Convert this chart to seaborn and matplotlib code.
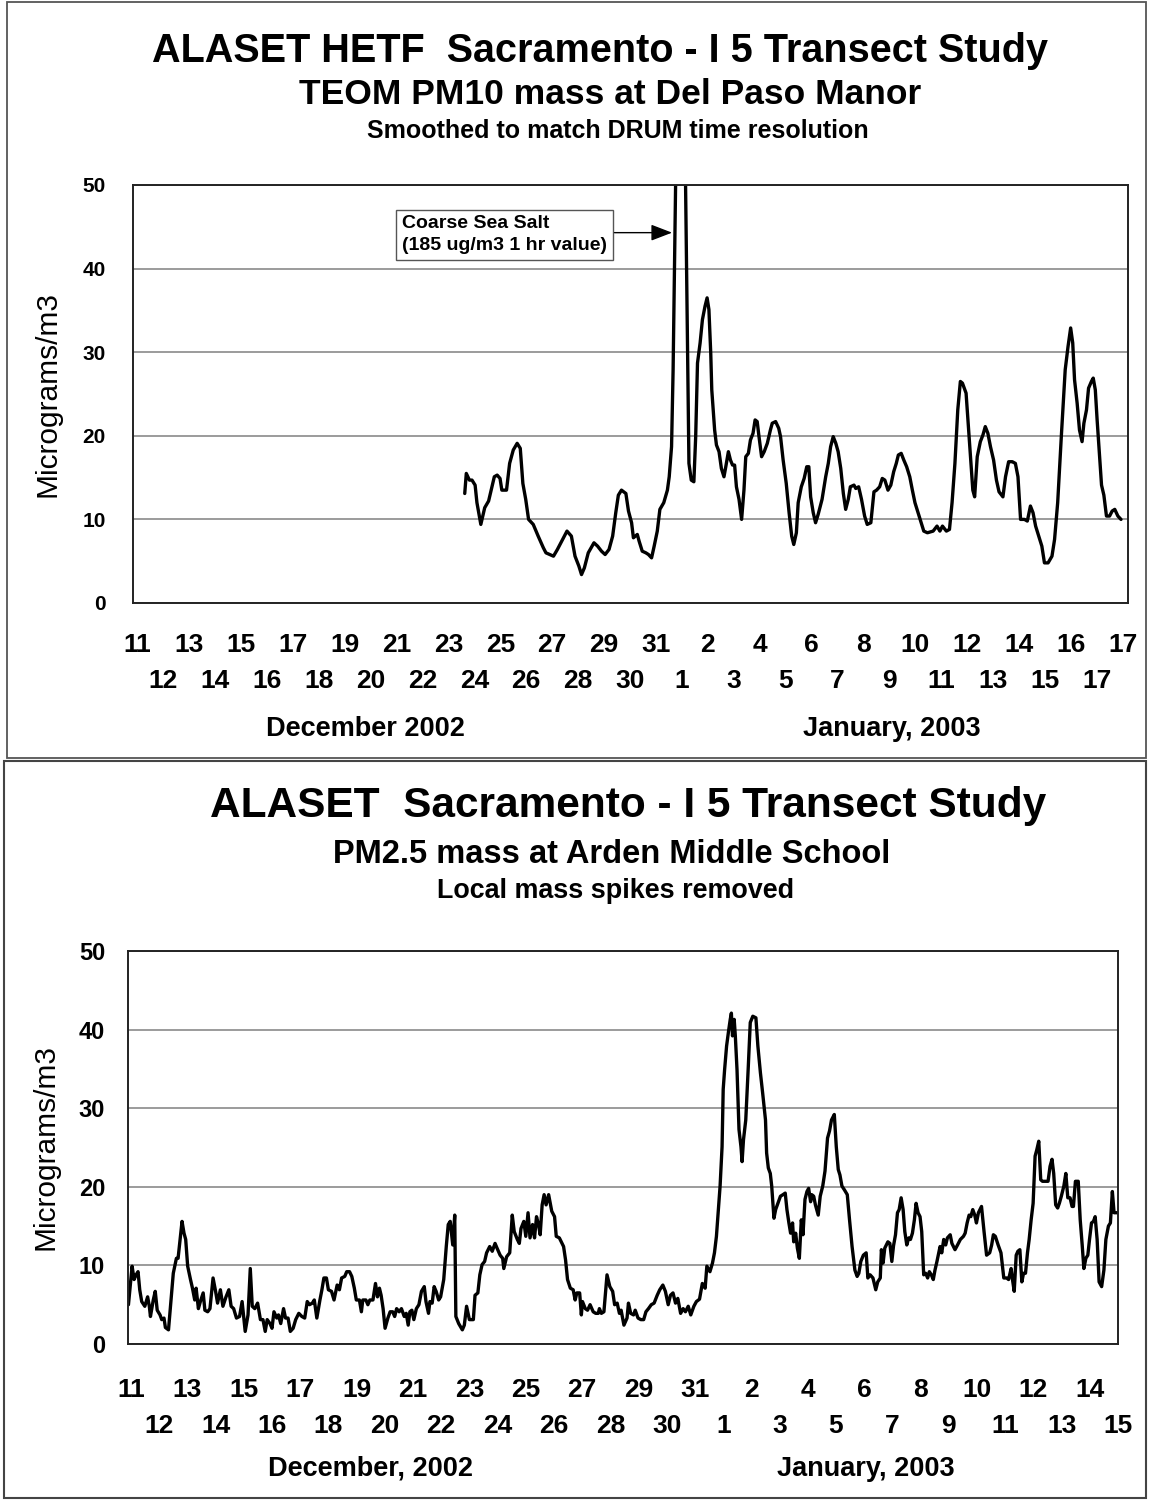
import numpy as np
import pandas as pd
import matplotlib
matplotlib.use("Agg")
import matplotlib.pyplot as plt
import seaborn as sns
from matplotlib.patches import Rectangle

# ---------------- data ----------------
# x positions are in "day-label slots" of each chart's category axis
top_day_labels = ["11", "12", "13", "14", "15", "16", "17", "18", "19", "20",
                  "21", "22", "23", "24", "25", "26", "27", "28", "29", "30",
                  "31", "1", "2", "3", "4", "5", "6", "7", "8", "9",
                  "10", "11", "12", "13", "14", "15", "16", "17", "17"]
bot_day_labels = ["11", "12", "13", "14", "15", "16", "17", "18", "19", "20",
                  "21", "22", "23", "24", "25", "26", "27", "28", "29", "30",
                  "31", "1", "2", "3", "4", "5", "6", "7", "8", "9",
                  "10", "11", "12", "13", "14", "15"]
y_ticks = [0, 10, 20, 30, 40, 50]

top_t = [12.63, 12.69, 12.81, 12.91, 13.03, 13.10, 13.25, 13.40, 13.55, 13.65,
         13.77, 13.88, 13.99, 14.06, 14.24, 14.36, 14.50, 14.65, 14.77, 14.87,
         14.98, 15.09, 15.27, 15.46, 15.66, 15.76, 15.91, 16.05, 16.20, 16.40,
         16.57,
         16.74, 16.88, 17.03, 17.13, 17.24, 17.39, 17.61, 17.75, 17.90, 18.04,
         18.19, 18.33, 18.45, 18.55, 18.67, 18.84, 18.94, 19.06, 19.13, 19.28,
         19.35, 19.47, 19.61, 19.71, 19.83, 19.93, 20.05, 20.15, 20.30, 20.44,
         20.51, 20.60, 20.66, 20.73, 20.95, 21.14, 21.21, 21.27, 21.36, 21.46,
         21.53, 21.60, 21.70, 21.79, 21.89, 21.97, 22.04, 22.11, 22.15, 22.26,
         22.33, 22.43, 22.52, 22.62, 22.69, 22.79, 22.87, 22.95, 23.03, 23.10,
         23.20, 23.30, 23.39, 23.46, 23.56, 23.64, 23.74, 23.82, 23.90, 23.97,
         24.07, 24.17, 24.29, 24.41, 24.48, 24.61, 24.73, 24.80, 24.90, 25.02,
         25.13, 25.23, 25.31, 25.41, 25.48, 25.60, 25.71, 25.81, 25.89, 25.96,
         26.06, 26.15, 26.25, 26.40, 26.54, 26.64, 26.73, 26.83, 26.93, 27.02,
         27.12, 27.22, 27.31, 27.41, 27.49, 27.63, 27.70, 27.81, 27.92, 28.04,
         28.14, 28.28, 28.40, 28.50, 28.62, 28.72, 28.82, 28.94, 29.05, 29.16,
         29.26, 29.34, 29.45, 29.55, 29.66, 29.78, 29.88, 29.98, 30.10, 30.22,
         30.32, 30.46, 30.68, 30.83, 30.94, 31.04, 31.19, 31.31, 31.41, 31.52,
         31.63, 31.73, 31.81, 31.95, 32.03, 32.13, 32.21, 32.28, 32.38, 32.50,
         32.60, 32.69, 32.79, 32.89, 33.01, 33.12, 33.22, 33.37, 33.47, 33.59,
         33.73, 33.85, 33.95, 34.05, 34.20, 34.31, 34.43, 34.53, 34.63, 34.75,
         34.87, 34.97, 35.11, 35.26, 35.36, 35.48, 35.62, 35.77, 35.88, 35.98,
         36.06, 36.13, 36.23, 36.32, 36.42, 36.49, 36.59, 36.67, 36.78, 36.85,
         36.93, 37.00, 37.07, 37.17, 37.26, 37.36, 37.48, 37.58, 37.68, 37.80,
         37.92]
top_pm10 = [13.1, 15.5, 14.7, 14.7, 14.1, 12.0, 9.4, 11.4, 12.2, 13.5,
            15.1, 15.3, 14.9, 13.5, 13.5, 16.7, 18.3, 19.1, 18.5, 14.3,
            12.4, 10.0, 9.4, 8.0, 6.6, 6.0, 5.8, 5.6, 6.4, 7.6,
            8.6,
            8.0, 5.6, 4.4, 3.4, 4.2, 6.0, 7.2, 6.8, 6.2, 5.8,
            6.4, 8.0, 10.8, 12.9, 13.5, 13.1, 11.0, 9.6, 7.8, 8.2,
            7.4, 6.2, 6.0, 5.8, 5.4, 6.8, 8.6, 11.2, 12.0, 13.5,
            15.1, 18.7, 27.9, 43.8, 95.0, 50.0, 31.9, 16.7, 14.7, 14.5,
            19.9, 28.7, 31.1, 33.9, 35.5, 36.5, 35.1, 29.9, 25.5, 20.7,
            18.9, 18.1, 16.1, 15.1, 16.3, 18.1, 17.1, 16.5, 16.5, 13.9,
            12.4, 10.0, 13.5, 17.5, 17.9, 19.5, 20.3, 21.9, 21.7, 19.9,
            17.5, 18.1, 19.1, 20.7, 21.5, 21.7, 20.9, 19.9, 17.1, 14.3,
            10.8, 8.0, 7.0, 8.4, 12.0, 13.9, 14.9, 16.3, 16.3, 12.7,
            10.8, 9.6, 10.6, 12.4, 15.1, 16.7, 18.7, 19.9, 19.1, 18.1,
            16.1, 13.1, 11.2, 12.4, 13.9, 14.1, 13.7, 13.9, 12.4, 10.4,
            9.4, 9.6, 13.3, 13.5, 13.9, 14.9, 14.7, 13.5, 14.1, 15.7,
            16.7, 17.7, 17.9, 17.1, 16.3, 15.1, 13.5, 12.0, 10.8, 9.6,
            8.6, 8.4, 8.6, 9.2, 8.6, 9.2, 8.6, 8.8, 12.0, 16.7,
            23.1, 26.5, 26.3, 25.1, 21.5, 17.1, 13.5, 12.7, 17.5, 19.3,
            20.1, 21.1, 20.3, 18.7, 17.1, 14.7, 13.3, 12.7, 15.1, 16.9,
            16.9, 16.7, 15.1, 10.0, 10.0, 9.8, 11.6, 10.8, 9.2, 8.0,
            6.8, 4.8, 4.8, 5.6, 7.6, 12.0, 19.9, 27.9, 30.7, 32.9,
            31.1, 26.7, 23.9, 20.7, 19.3, 21.5, 23.1, 25.7, 26.5, 26.9,
            25.5, 21.9, 18.7, 14.1, 12.9, 10.4, 10.4, 11.0, 11.2, 10.4,
            10.0]

bot_t = [-0.09, -0.03, 0.04, 0.11, 0.18, 0.25, 0.31, 0.38, 0.49, 0.59,
         0.65, 0.69, 0.79, 0.86, 0.93, 1.03, 1.09, 1.17, 1.22, 1.33,
         1.43, 1.50, 1.61, 1.67, 1.74, 1.81, 1.88, 1.94, 2.01, 2.11,
         2.18, 2.26, 2.31, 2.39, 2.46, 2.56, 2.62, 2.72, 2.80, 2.91,
         3.00, 3.07, 3.17, 3.26, 3.37, 3.47, 3.55, 3.64, 3.74, 3.85,
         3.94, 4.05, 4.15, 4.23, 4.30, 4.39, 4.49, 4.59, 4.68, 4.76,
         4.83, 4.93, 5.00, 5.07, 5.17, 5.23, 5.31, 5.41, 5.48, 5.57,
         5.65, 5.75, 5.84, 5.95, 6.06, 6.16, 6.25, 6.33, 6.43, 6.50,
         6.59, 6.70, 6.77, 6.84, 6.93, 7.00, 7.11, 7.20, 7.31, 7.39,
         7.47, 7.58, 7.65, 7.75, 7.83, 7.92, 7.99, 8.10, 8.17, 8.22,
         8.33, 8.40, 8.47, 8.58, 8.67, 8.74, 8.81, 8.87, 8.94, 9.01,
         9.11, 9.19, 9.28, 9.35, 9.42, 9.51, 9.59, 9.69, 9.76, 9.83,
         9.89, 9.96, 10.03, 10.12, 10.21, 10.30, 10.40, 10.46, 10.55, 10.60,
         10.68, 10.75, 10.82, 10.91, 10.98, 11.09, 11.18, 11.25, 11.32, 11.36,
         11.41, 11.48, 11.52, 11.62, 11.75, 11.82, 11.90, 12.00, 12.14, 12.20,
         12.30, 12.37, 12.45, 12.54, 12.61, 12.72, 12.81, 12.91, 12.98, 13.09,
         13.18, 13.22, 13.32, 13.43, 13.52, 13.59, 13.70, 13.77, 13.83, 13.93,
         14.00, 14.08, 14.15, 14.24, 14.31, 14.38, 14.45, 14.51, 14.58, 14.65,
         14.72, 14.81, 14.92, 15.02, 15.08, 15.19,
         15.34, 15.41, 15.48, 15.58, 15.68, 15.75, 15.81, 15.91, 15.97, 16.01,
         16.11, 16.19, 16.28, 16.39, 16.48, 16.57, 16.61, 16.68, 16.77, 16.88,
         16.98, 17.08, 17.15, 17.24, 17.32, 17.38, 17.48, 17.59, 17.64, 17.72,
         17.82, 17.88, 17.98, 18.08, 18.18, 18.26, 18.35, 18.45, 18.55, 18.66,
         18.75, 18.86, 18.95, 19.05, 19.13, 19.22, 19.31, 19.39, 19.49, 19.58,
         19.66, 19.76, 19.85, 19.96, 20.05, 20.16, 20.22, 20.26, 20.36, 20.42,
         20.53, 20.62, 20.69, 20.76, 20.83, 20.89, 20.96, 21.00, 21.05, 21.12,
         21.19, 21.25, 21.29, 21.33, 21.39, 21.43, 21.49, 21.56, 21.63, 21.67,
         21.72, 21.80, 21.89, 21.96, 22.05, 22.16, 22.23, 22.32, 22.40, 22.50,
         22.54, 22.60, 22.67, 22.72, 22.80, 22.86, 22.94, 23.03, 23.12, 23.20,
         23.26, 23.33, 23.39, 23.46, 23.50, 23.57, 23.63, 23.70, 23.77, 23.83,
         23.90, 23.97, 24.03, 24.10, 24.14, 24.21, 24.27, 24.37, 24.44, 24.53,
         24.61, 24.70, 24.77, 24.84, 24.94, 25.01, 25.08, 25.14, 25.21, 25.30,
         25.40, 25.48, 25.57, 25.67, 25.75, 25.81, 25.88, 25.97, 26.07, 26.13,
         26.21, 26.31, 26.41, 26.48, 26.57, 26.61, 26.67, 26.73, 26.84, 26.91,
         26.98, 27.04, 27.11, 27.18, 27.24, 27.31, 27.38, 27.44, 27.51, 27.58,
         27.64, 27.71, 27.78, 27.84, 27.91, 27.98, 28.04, 28.11, 28.18, 28.25,
         28.31, 28.38, 28.45, 28.51, 28.58, 28.69, 28.75, 28.82, 28.89, 28.95,
         29.05, 29.11, 29.22, 29.31, 29.41, 29.52, 29.58, 29.65, 29.72, 29.78,
         29.85, 29.92, 29.98, 30.05, 30.16, 30.25, 30.34, 30.45, 30.52, 30.58,
         30.65, 30.75, 30.85, 30.95, 31.05, 31.12, 31.21, 31.25, 31.32, 31.39,
         31.45, 31.52, 31.59, 31.65, 31.72, 31.79, 31.85, 31.92, 31.99, 32.06,
         32.12, 32.19, 32.26, 32.32, 32.43, 32.52, 32.59, 32.66, 32.72, 32.79,
         32.86, 32.92, 32.99, 33.08, 33.15, 33.22, 33.30, 33.37, 33.42, 33.49,
         33.59, 33.66, 33.73, 33.79, 33.86, 33.93, 33.99, 34.06, 34.13, 34.19,
         34.26, 34.33, 34.42, 34.50, 34.57, 34.66, 34.73, 34.80, 34.86, 34.97]
bot_pm25 = [5.0, 7.3, 9.9, 8.2, 8.8, 9.2, 6.9, 5.4, 4.8, 6.0,
            4.8, 3.5, 5.6, 6.7, 4.3, 3.7, 3.1, 3.3, 2.1, 1.8,
            6.0, 9.0, 10.9, 10.9, 13.3, 15.6, 14.1, 13.3, 9.9, 8.2,
            7.1, 5.6, 7.1, 4.5, 5.4, 6.5, 4.3, 4.1, 4.5, 8.4,
            6.7, 5.2, 6.9, 4.8, 6.0, 6.9, 4.8, 4.5, 3.3, 3.5,
            5.4, 1.6, 3.7, 9.6, 4.8, 4.5, 5.2, 3.1, 3.1, 1.6,
            3.1, 2.6, 2.0, 4.1, 3.3, 3.7, 2.6, 4.5, 3.3, 3.3,
            1.6, 2.0, 3.1, 3.9, 3.5, 3.3, 5.4, 5.0, 5.2, 5.6,
            3.3, 5.6, 6.9, 8.4, 8.4, 6.9, 6.7, 5.6, 7.5, 6.9,
            8.4, 8.6, 9.2, 9.2, 8.6, 7.1, 5.6, 5.6, 4.1, 5.6,
            5.6, 5.0, 5.6, 5.6, 7.7, 6.0, 7.1, 6.2, 4.5, 2.0,
            3.3, 4.1, 4.1, 3.5, 4.5, 4.1, 4.5, 3.5, 3.9, 2.4,
            4.1, 4.3, 3.1, 4.5, 5.0, 6.7, 7.3, 5.4, 3.9, 5.4,
            5.2, 7.3, 6.7, 5.6, 6.0, 8.2, 12.4, 15.2, 15.6, 14.3,
            12.6, 16.4, 3.5, 2.6, 1.8, 2.4, 4.8, 3.1, 3.1, 6.2,
            6.5, 8.8, 10.1, 10.5, 11.6, 12.4, 11.8, 12.8, 12.2, 11.3,
            10.9, 9.6, 11.1, 11.6, 16.4, 14.3, 13.3, 12.8, 14.7, 15.6,
            13.7, 16.7, 13.5, 15.2, 13.5, 16.2, 15.2, 13.9, 17.7, 19.0,
            17.7, 19.0, 16.9, 16.2, 13.7, 13.5,
            12.4, 10.7, 8.2, 7.1, 6.9, 5.6, 6.5, 6.5, 3.7, 5.4,
            4.5, 4.3, 5.0, 4.1, 3.9, 3.9, 4.5, 3.9, 4.1, 8.8,
            7.3, 6.7, 5.0, 5.2, 3.9, 4.3, 2.4, 3.3, 5.2, 3.9,
            3.7, 4.3, 3.3, 3.1, 3.1, 4.1, 4.5, 5.0, 5.2, 6.2,
            6.9, 7.5, 6.7, 5.0, 6.2, 6.5, 5.2, 5.8, 3.9, 4.5,
            4.1, 4.8, 3.7, 4.8, 5.4, 5.7, 6.9, 7.7, 7.1, 9.9,
            9.2, 10.3, 11.6, 13.7, 17.1, 20.1, 25.1, 32.4, 34.9, 37.9,
            39.8, 41.3, 42.1, 39.2, 41.3, 39.2, 34.9, 27.3, 25.1, 23.2,
            26.0, 28.5, 35.3, 40.9, 41.7, 41.5, 37.9, 34.5, 31.9, 28.5,
            24.3, 22.4, 21.7, 20.1, 16.0, 17.1, 17.9, 18.8, 19.0, 19.2,
            17.1, 15.4, 14.1, 15.4, 13.0, 14.1, 12.2, 10.9, 15.8, 13.9,
            18.4, 19.4, 19.8, 18.1, 19.0, 18.8, 17.7, 16.4, 18.8, 20.1,
            22.0, 26.2, 27.1, 28.5, 29.2, 25.1, 22.2, 21.5, 20.1, 19.6,
            19.0, 15.8, 12.4, 9.4, 8.6, 9.0, 10.5, 11.3, 11.6, 8.4,
            8.8, 8.4, 6.9, 7.9, 8.4, 12.0, 10.3, 12.2, 13.0, 12.8,
            10.5, 12.5, 13.9, 16.7, 17.1, 18.6, 17.1, 14.3, 12.6, 13.5,
            13.3, 14.1, 15.8, 17.9, 16.7, 16.2, 14.3, 8.8, 9.0, 8.4,
            9.2, 8.8, 8.2, 9.4, 10.5, 12.4, 11.6, 13.3, 12.6, 13.5,
            13.9, 12.8, 12.0, 12.6, 13.3, 13.7, 14.1, 15.4, 16.4, 16.2,
            17.1, 16.4, 15.4, 16.7, 17.5, 14.3, 11.3, 11.6, 12.6, 13.9,
            13.7, 12.6, 11.6, 8.4, 8.4, 8.2, 9.6, 8.4, 6.7, 11.3,
            11.8, 12.0, 7.9, 9.0, 9.0, 11.6, 13.3, 15.8, 17.9, 23.9,
            24.7, 25.8, 20.9, 20.7, 20.7, 20.7, 22.6, 23.5, 21.7, 17.7,
            17.3, 17.9, 18.8, 20.1, 21.7, 18.6, 18.6, 17.5, 17.5, 20.7,
            20.7, 15.8, 12.6, 9.6, 10.9, 11.3, 13.3, 15.4, 15.6, 16.2,
            13.3, 7.9, 7.3, 9.4, 13.3, 15.0, 15.4, 19.4, 16.7, 16.7]

# ---------------- styling ----------------
sns.set_theme(style="white")
plt.rcParams["font.family"] = ["Liberation Sans", "DejaVu Sans"]
plt.rcParams["text.color"] = "black"
plt.rcParams["axes.labelcolor"] = "black"
plt.rcParams["xtick.color"] = "black"
plt.rcParams["ytick.color"] = "black"

W, H = 1151, 1500
fig = plt.figure(figsize=(W / 100, H / 100), dpi=100)
fig.patch.set_facecolor("white")


def fx(px):
    return px / W


def fy(py):
    return 1 - py / H


ax1 = fig.add_axes([fx(133), fy(603), (1128 - 133) / W, (603 - 185) / H])
ax2 = fig.add_axes([fx(128), fy(1344), (1118 - 128) / W, (1344 - 951) / H])

df_top = pd.DataFrame({"t": top_t, "pm": top_pm10})
df_bot = pd.DataFrame({"t": bot_t, "pm": bot_pm25})

sns.lineplot(data=df_top, x="t", y="pm", ax=ax1, color="black", lw=2.4,
             estimator=None, sort=False)
sns.lineplot(data=df_bot, x="t", y="pm", ax=ax2, color="black", lw=2.4,
             estimator=None, sort=False)


def style_axes(ax, labels, xlim, ysize, ypad, xsize, pad1, pad2, ylab_x):
    ax.set_facecolor("white")
    ax.set_xlim(*xlim)
    ax.set_ylim(0, 50)
    ax.set_yticks(y_ticks)
    ax.set_yticklabels([str(v) for v in y_ticks])
    idx = np.arange(len(labels))
    ax.set_xticks(idx[::2])
    ax.set_xticklabels(labels[::2])
    ax.set_xticks(idx[1::2], minor=True)
    ax.set_xticklabels(labels[1::2], minor=True)
    ax.tick_params(axis="x", which="major", length=0, pad=pad1,
                   labelsize=xsize, labelcolor="black")
    ax.tick_params(axis="x", which="minor", length=0, pad=pad2,
                   labelsize=xsize, labelcolor="black")
    ax.tick_params(axis="y", length=0, pad=ypad, labelsize=ysize,
                   labelcolor="black")
    for lbl in ax.get_xticklabels(which="both") + ax.get_yticklabels():
        lbl.set_fontweight("bold")
    ax.grid(False)
    ax.yaxis.grid(True, color="#808080", lw=1.1)
    ax.set_axisbelow(True)
    for s in ax.spines.values():
        s.set_visible(True)
        s.set_color("#222222")
        s.set_linewidth(1.4)
    ax.set_xlabel("")
    ax.set_ylabel("Micrograms/m3", fontsize=21.5, color="black", va="center")
    ax.yaxis.set_label_coords(ylab_x, 0.5)


style_axes(ax1, top_day_labels, (-0.154, 38.19), 15, 19.5, 19, 21.5, 47.5,
           (48 - 133) / 995)
style_axes(ax2, bot_day_labels, (-0.106, 35.0), 17, 16.5, 19, 24.5, 50.5,
           (46 - 128) / 990)

# annotation in top chart
ax1.text(10.2, 44.05, "Coarse Sea Salt\n(185 ug/m3 1 hr value)", fontsize=14,
         fontweight="bold", ha="left", va="center", linespacing=1.35,
         color="black",
         bbox=dict(boxstyle="square,pad=0.3", fc="white", ec="#555555", lw=1.0))
ax1.annotate("", xy=(20.62, 44.3), xytext=(18.40, 44.3),
             arrowprops=dict(arrowstyle="-|>,head_length=0.65,head_width=0.25",
                             mutation_scale=20, color="black", lw=1.0,
                             shrinkA=0, shrinkB=0))

# titles
fig.text(fx(600), fy(51), "ALASET HETF  Sacramento - I 5 Transect Study",
         fontsize=28.5, fontweight="bold", ha="center", va="center",
         color="black")
fig.text(fx(610), fy(95), "TEOM PM10 mass at Del Paso Manor",
         fontsize=25.5, fontweight="bold", ha="center", va="center",
         color="black")
fig.text(fx(618), fy(131), "Smoothed to match DRUM time resolution",
         fontsize=18, fontweight="bold", ha="center", va="center",
         color="black")

fig.text(fx(628), fy(806), "ALASET  Sacramento - I 5 Transect Study",
         fontsize=30.5, fontweight="bold", ha="center", va="center",
         color="black")
fig.text(fx(612), fy(855), "PM2.5 mass at Arden Middle School",
         fontsize=23.5, fontweight="bold", ha="center", va="center",
         color="black")
fig.text(fx(616), fy(891), "Local mass spikes removed",
         fontsize=19.4, fontweight="bold", ha="center", va="center",
         color="black")

# month labels
fig.text(fx(365), fy(729), "December 2002", fontsize=19.5, fontweight="bold",
         ha="center", va="center", color="black")
fig.text(fx(892), fy(729), "January, 2003", fontsize=19.5, fontweight="bold",
         ha="center", va="center", color="black")
fig.text(fx(370), fy(1469), "December, 2002", fontsize=19.5, fontweight="bold",
         ha="center", va="center", color="black")
fig.text(fx(866), fy(1469), "January, 2003", fontsize=19.5, fontweight="bold",
         ha="center", va="center", color="black")

# panel frames
fig.add_artist(Rectangle((fx(7), fy(758)), (1146 - 7) / W, (758 - 2) / H,
                         transform=fig.transFigure, fill=False,
                         ec="#555555", lw=1.3))
fig.add_artist(Rectangle((fx(4), fy(1498)), (1146 - 4) / W, (1498 - 761) / H,
                         transform=fig.transFigure, fill=False,
                         ec="#444444", lw=1.5))

fig.savefig("out.png", dpi=100, facecolor="white")
